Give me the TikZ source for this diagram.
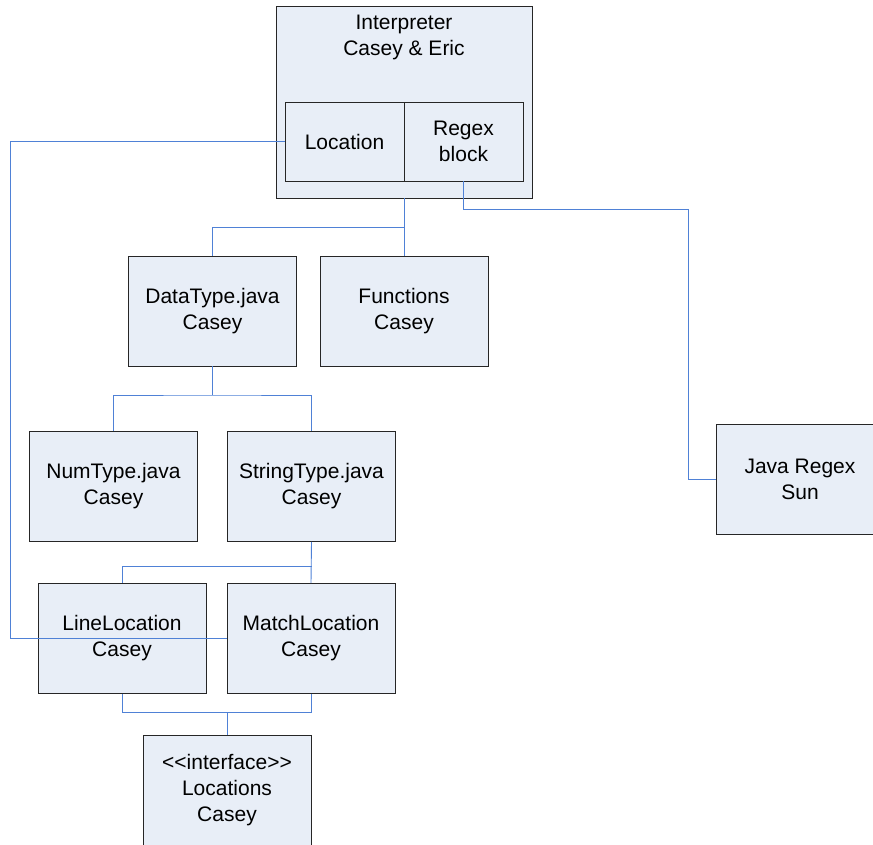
\documentclass[tikz,border=0pt]{standalone}
\usepackage{fontspec}
\setmainfont{Liberation Sans}
\usepackage{tikz}
\usetikzlibrary{positioning,calc}
\definecolor{boxfill}{RGB}{232,238,247}
\definecolor{linkblue}{RGB}{79,129,214}
\tikzset{
  umlbox/.style ={rectangle,draw=black!85,fill=boxfill,line width=0.9pt,
                  minimum width=168pt,minimum height=110pt,inner sep=0pt,
                  align=center,font=\fontsize{21}{26}\selectfont},
  subbox/.style ={umlbox,minimum width=119pt,minimum height=79pt},
  boxtext/.style={align=center,inner sep=0pt,font=\fontsize{21}{26}\selectfont},
  link/.style   ={draw=linkblue,line width=0.9pt},
}
\begin{document}
\begin{tikzpicture}[x=1pt,y=-1pt]
  \useasboundingbox (0,0) rectangle (873,844);
  % interpreter with its two parts
  \node[umlbox,minimum width=256pt,minimum height=192pt] (interp) at (404,102) {};
  \node[boxtext] (interptxt) at (404,37) {Interpreter\\Casey \& Eric};
  \node[subbox] (loc) at (344.5,141.5) {Location};
  \node[subbox] (regex) at (463.5,141.5) {Regex\\block};
  % classes
  \node[umlbox] (datatype)  at (212.5,311) {DataType.java\\Casey};
  \node[umlbox] (functions) at (404,311)   {Functions\\Casey};
  \node[umlbox,minimum width=190pt] (java) at (811,479) {\hspace*{-22pt}Java Regex\\\hspace*{-22pt}Sun};
  \node[umlbox] (numtype)   at (113.5,486.5) {NumType.java\\Casey};
  \node[umlbox] (strtype)   at (311.5,486.5) {StringType.java\\Casey};
  \node[umlbox] (lineloc)   at (122,638.5) {LineLocation\\Casey};
  \node[umlbox] (matchloc)  at (311,638.5) {MatchLocation\\Casey};
  \node[umlbox] (locations) at (227,790)   {{<}{<}interface{>}{>}\\Locations\\Casey};
  % junction points
  \coordinate (j1) at (404,227);
  \coordinate (j2) at (688,209);
  \coordinate (j3) at (212.5,395);
  \coordinate (j4) at (311.5,566);
  \coordinate (j5) at (227,712);
  \coordinate (rail) at (10,0);
  % connectors
  \draw[link] (interp.south) -- (functions.north);
  \draw[link] (j1) -| (datatype.north);
  \draw[link] (regex.south) |- (j2) |- (java.west);
  \draw[link] (datatype.south) -- (j3);
  \draw[link] (numtype.north) |- (j3) -| (strtype.north);
  \draw[link] (strtype.south) -- (matchloc.north);
  \draw[link] (lineloc.north) |- (j4);
  \draw[link] (lineloc.south) |- (j5) -| (matchloc.south);
  \draw[link] (j5) -- (locations.north);
  \draw[link] (loc.west) -- (loc.west -| rail) |- (matchloc.west);
\end{tikzpicture}
\end{document}
